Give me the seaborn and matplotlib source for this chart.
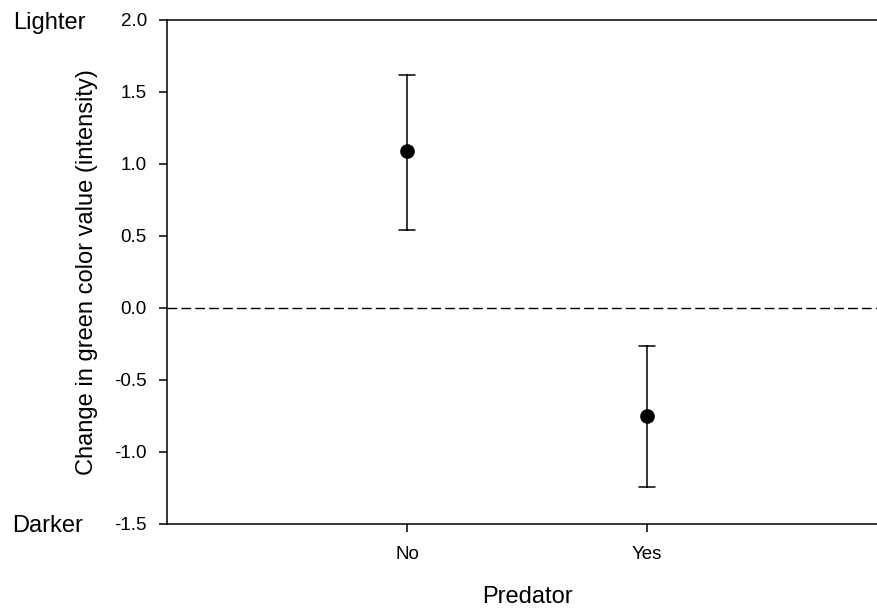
import pandas as pd
import seaborn as sns
import matplotlib.pyplot as plt

# values
predator = ["No", "Yes"]
mean_change = [1.09, -0.75]
lower = [0.54, -1.24]
upper = [1.62, -0.265]

#long table: each group holds lower, mean, upper -> median gives mean, min/max give the bar
rows = []
for p, lo, m, hi in zip(predator, lower, mean_change, upper):
    for v in (lo, m, hi):
        rows.append({"Predator": p, "value": v})
df = pd.DataFrame(rows)

sns.set_style("ticks", {"axes.edgecolor": "black", "xtick.color": "black",
                        "ytick.color": "black", "text.color": "black",
                        "axes.labelcolor": "black"})
plt.rcParams['font.family'] = ['Liberation Sans', 'DejaVu Sans']

fig = plt.figure(figsize=(8.77, 6.09), dpi=100)
ax = fig.add_axes([167 / 877, 1 - 524 / 609, 720 / 877, 504 / 609])

sns.pointplot(data=df, x="Predator", y="value", order=predator,
              estimator="median", errorbar=lambda v: (v.min(), v.max()),
              color="black", linestyle="none", markers="o",
              capsize=0.065, err_kws={"linewidth": 1.1}, markersize=8.5, ax=ax)

ax.axhline(0, color="black", linestyle=(0, (7, 3)), linewidth=1)

ax.set_xlim(-1, 2)
ax.set_ylim(-1.5, 2.0)
ax.set_yticks([-1.5, -1.0, -0.5, 0.0, 0.5, 1.0, 1.5, 2.0])
ax.set_yticklabels(["-1.5", "-1.0", "-0.5", "0.0", "0.5", "1.0", "1.5", "2.0"])

ax.spines["right"].set_visible(False)
for s in ["left", "top", "bottom"]:
    ax.spines[s].set_linewidth(1.1)
ax.tick_params(axis="y", direction="out", length=5.5, width=1.1, labelsize=13.5, pad=9)
ax.tick_params(axis="x", direction="out", length=5.5, width=1.1, labelsize=13.5, pad=10)

ax.set_ylabel("Change in green color value (intensity)", fontsize=17, labelpad=12)
ax.set_xlabel("")
fig.text(527 / 877, 1 - 603 / 609, "Predator", fontsize=17, ha="center", va="baseline")

fig.text(13 / 877, 1 - 29 / 609, "Lighter", fontsize=17, ha="left", va="baseline")
fig.text(12 / 877, 1 - 532 / 609, "Darker", fontsize=17, ha="left", va="baseline")

fig.savefig("out.png", dpi=100)
